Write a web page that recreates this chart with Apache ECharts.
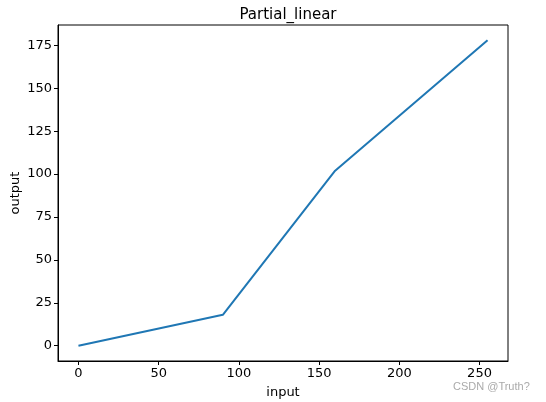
<!DOCTYPE html>
<html><head><meta charset="utf-8">
<script src="https://cdn.jsdelivr.net/npm/echarts@6/dist/echarts.min.js"></script>
<style>html,body{margin:0;padding:0;background:#fff}#c{width:546px;height:402px}</style>
</head><body><div id="c"></div>
<script>
const xValues = [0, 90, 160, 255];
const yValues = [0, 18, 102, 178];
const xTicks = [0, 50, 100, 150, 200, 250];
const yTicks = [0, 25, 50, 75, 100, 125, 150, 175];

const chart = echarts.init(document.getElementById('c'), null, {renderer: 'canvas'});
const font = 'DejaVu Sans';
const xr = 255 - 0, yr = 178 - 0;
chart.setOption({
  animation: false,
  backgroundColor: '#fff',
  title: {text: 'Partial_linear', left: 283, top: 3, textAlign: 'center',
    textStyle: {fontFamily: font, fontSize: 15, fontWeight: 'normal', color: '#000'}},
  graphic: [
    {type: 'text', left: 453, top: 381, style: {text: 'CSDN @Truth?', fontFamily: 'Liberation Sans', fontSize: 11, fill: '#aaa'}}
  ],
  grid: {left: 58, top: 25, right: 38, bottom: 41, outerBoundsMode: 'none', containLabel: false,
    show: true, borderColor: '#000', borderWidth: 1, backgroundColor: '#fff'},
  xAxis: {
    type: 'value', min: -0.05 * xr, max: 255 + 0.05 * xr,
    name: 'input', nameLocation: 'middle', nameGap: 25, nameMoveOverlap: false,
    nameTextStyle: {fontFamily: font, fontSize: 13, color: '#000'},
    axisLine: {show: true, onZero: false, lineStyle: {color: '#000', width: 1}},
    axisTick: {show: true, length: 4, customValues: xTicks, lineStyle: {color: '#000'}},
    axisLabel: {customValues: xTicks, fontFamily: font, fontSize: 13, color: '#000', margin: 6},
    splitLine: {show: false}
  },
  yAxis: {
    type: 'value', min: -0.05 * yr, max: 178 + 0.05 * yr,
    name: 'output', nameLocation: 'middle', nameGap: 36, nameMoveOverlap: false,
    nameTextStyle: {fontFamily: font, fontSize: 13, color: '#000'},
    axisLine: {show: true, onZero: false, lineStyle: {color: '#000', width: 1}},
    axisTick: {show: true, length: 4, customValues: yTicks, lineStyle: {color: '#000'}},
    axisLabel: {customValues: yTicks, fontFamily: font, fontSize: 13, color: '#000', margin: 6},
    splitLine: {show: false}
  },
  series: [{
    type: 'line', data: xValues.map((x, i) => [x, yValues[i]]),
    showSymbol: false, symbol: 'none',
    lineStyle: {color: '#1f77b4', width: 2}
  }]
});
</script></body></html>
